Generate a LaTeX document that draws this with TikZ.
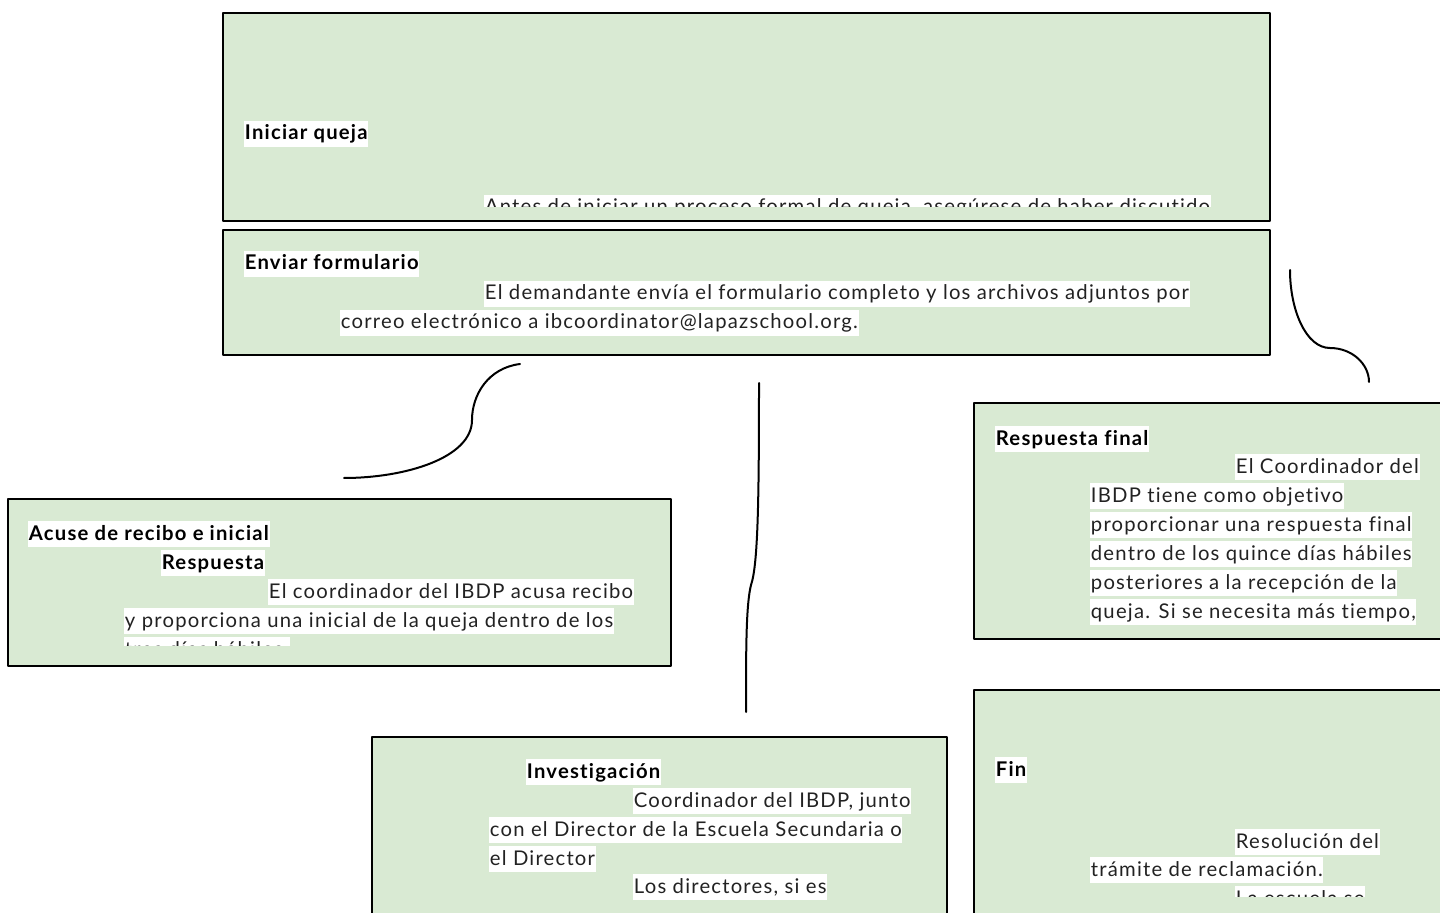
\documentclass[tikz,border=0pt]{standalone}
\usepackage{fontspec}
\setmainfont{Lato}[LetterSpace=6, Ligatures={NoCommon}]
\usetikzlibrary{positioning}
\definecolor{boxgreen}{HTML}{D9EAD3}
\definecolor{ink}{HTML}{222222}
\tikzset{
  every picture/.style={line join=round, line cap=round},
  stepbox/.style={rectangle, draw=black, fill=boxgreen, line width=1.5pt, inner sep=0pt},
  hl/.style={anchor=west, yshift=-1.5pt, fill=white, inner xsep=0.5pt, inner ysep=0pt, text height=14pt, text depth=5pt, text=ink, font=\fontsize{15.2}{18}\selectfont},
  hlhead/.style={hl, text=black, font=\fontsize{15.2}{18}\selectfont\bfseries},
  link/.style={line width=1.5pt, black},
}
\begin{document}
\begin{tikzpicture}[x=0.75pt,y=-0.75pt]
\useasboundingbox (0,0) rectangle (1440,913);
\clip (0,0) rectangle (1440,913);
% boxes
\node[stepbox, minimum width={1047*0.75pt}, minimum height={208*0.75pt}] (iniciar) at (746.5,117) {};
\node[stepbox, minimum width={1047*0.75pt}, minimum height={125*0.75pt}] (enviar) at (746.5,292.5) {};
\node[stepbox, minimum width={663*0.75pt}, minimum height={167*0.75pt}] (acuse) at (339.5,582.5) {};
\node[stepbox, minimum width={575*0.75pt}, minimum height={223*0.75pt}] (invest) at (659.5,848.5) {};
\node[stepbox, minimum width={486*0.75pt}, minimum height={236*0.75pt}] (final) at (1217,521) {};
\node[stepbox, minimum width={486*0.75pt}, minimum height={270*0.75pt}] (fin) at (1217,825) {};
% texts
\begin{scope}
\clip (iniciar.north west) rectangle (1270,207);
\node[hlhead] (iniT) at (244,132) {Iniciar queja};
\node[hl] (ini1) at (484,206) {Antes de iniciar un proceso formal de queja, asegúrese de haber discutido};
\end{scope}
\begin{scope}
\clip (enviar.north west) rectangle (enviar.south east);
\node[hlhead] (envT) at (244,262) {Enviar formulario};
\node[hl] (env1) at (484,292) {El demandante envía el formulario completo y los archivos adjuntos por};
\node[hl] (env2) at (340,321) {correo electrónico a ibcoordinator@lapazschool.org.};
\end{scope}
\begin{scope}
\clip (acuse.north west) rectangle (671,645);
\node[hlhead] (acuT) at (28,532) {Acuse de recibo e inicial};
\node[hlhead] (acu1) at (161,561) {Respuesta};
\node[hl] (acu2) at (268,590) {El coordinador del IBDP acusa recibo};
\node[hl] (acu3) at (124,619) {y proporciona una inicial de la queja dentro de los};
\node[hl] (acu4) at (124,648) {tres días hábiles.};
\end{scope}
\begin{scope}
\clip (invest.north west) rectangle (947,913);
\node[hlhead] (invT) at (526,770) {Investigación};
\node[hl] (inv1) at (633,799) {Coordinador del IBDP, junto};
\node[hl] (inv2) at (489,828) {con el Director de la Escuela Secundaria o};
\node[hl] (inv3) at (489,857) {el Director};
\node[hl] (inv4) at (633,885) {Los directores, si es};
\end{scope}
\begin{scope}
\clip (final.north west) rectangle (1440,625);
\node[hlhead] (finalT) at (995,437) {Respuesta final};
\node[hl] (final1) at (1235,465) {El Coordinador del};
\node[hl] (final2) at (1090,494) {IBDP tiene como objetivo};
\node[hl] (final3) at (1090,523) {proporcionar una respuesta final};
\node[hl] (final4) at (1090,552) {dentro de los quince días hábiles};
\node[hl] (final5) at (1090,581) {posteriores a la recepción de la};
\node[hl] (final6) at (1090,610) {queja. Si se necesita más tiempo,};
\end{scope}
\begin{scope}
\clip (fin.north west) rectangle (1440,896);
\node[hlhead] (finT) at (995,768) {Fin};
\node[hl] (fin1) at (1235,840) {Resolución del};
\node[hl] (fin2) at (1090,868) {trámite de reclamación.};
\node[hl] (fin3) at (1235,897) {La escuela se};
\end{scope}
% connectors
\coordinate (a1) at (520,364);
\coordinate (a2) at (472,420);
\coordinate (a3) at (344,478);
\coordinate (b1) at (759,383);
\coordinate (b2) at (751,585);
\coordinate (b3) at (746,712);
\coordinate (c1) at (1290,270);
\coordinate (c2) at (1330,348);
\coordinate (c3) at (1369,382);
\draw[link] (a1) .. controls (488,368) and (472,395) .. (a2) .. controls (472,458) and (405,478) .. (a3);
\draw[link] (b1) .. controls (759,500) and (758,565) .. (b2) .. controls (746,605) and (746,650) .. (b3);
\draw[link] (c1) .. controls (1290,310) and (1306,348) .. (c2) .. controls (1352,348) and (1369,364) .. (c3);
\end{tikzpicture}
\end{document}
